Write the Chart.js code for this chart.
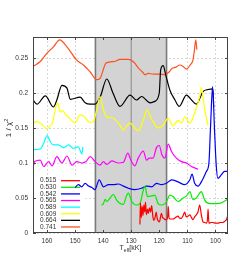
<!DOCTYPE html>
<html>
<head>
<meta charset="utf-8">
<script src="https://cdn.jsdelivr.net/npm/chart.js@4/dist/chart.umd.min.js"></script>
<style>
  html, body { margin: 0; padding: 0; background: #fff; }
  #c { display: block; }
</style>
</head>
<body>
<canvas id="c" width="241" height="271"></canvas>
<script>
/* =====================================================
   Data (Teff in kK, fit quality 1/chi^2)
===================================================== */
const labels = ['0.515', '0.530', '0.542', '0.565', '0.589', '0.609', '0.664', '0.741'];
const colors = ['#ff0000', '#00ee00', '#0000ff', '#ff00ff', '#00ffff', '#ffff00', '#000000', '#ff4f1f'];

const teff515 = [126.9,126.7,126.4,126.1,125.8,125.5,125.2,124.9,124.6,124.2,123.9,123.5,123.1,122.7,122.3,121.9,121.5,121.1,120.7,120.3,119.9,119.5,119.2,118.8,118.4,118.0,117.4,117.0,116.8,116.5,115.8,115.1,114.2,113.3,112.7,112.1,111.5,110.9,110.4,109.8,109.1,108.5,108.0,107.4,106.8,106.2,105.6,105.0,104.4,103.8,103.2,102.8,102.6,102.3,101.5,100.9,100.0,99.1,98.2,97.3,96.6,96.1,95.5];
const fit515 = [0.012,0.043,0.022,0.038,0.025,0.040,0.030,0.044,0.026,0.034,0.028,0.036,0.030,0.039,0.024,0.018,0.022,0.030,0.020,0.017,0.016,0.024,0.028,0.022,0.021,0.019,0.019,0.024,0.038,0.021,0.020,0.020,0.022,0.024,0.021,0.021,0.025,0.030,0.023,0.024,0.026,0.022,0.019,0.023,0.026,0.030,0.040,0.026,0.016,0.015,0.014,0.020,0.034,0.014,0.015,0.015,0.014,0.014,0.015,0.015,0.017,0.019,0.026];

const teff530 = [140.5,139.9,139.3,138.7,137.5,136.4,135.2,134.2,132.8,131.6,131.0,129.8,128.1,126.9,125.7,125.1,124.2,122.7,121.6,120.4,119.2,118.0,117.4,116.2,115.1,113.3,111.5,110.3,109.1,108.0,106.8,105.0,104.6,103.8,102.0,99.6,97.9,96.1,95.5];
const fit530 = [0.040,0.042,0.048,0.045,0.050,0.055,0.047,0.043,0.041,0.054,0.057,0.045,0.040,0.042,0.061,0.067,0.052,0.053,0.054,0.042,0.040,0.042,0.045,0.054,0.052,0.045,0.050,0.053,0.059,0.048,0.050,0.059,0.056,0.047,0.042,0.042,0.043,0.047,0.049];

const teff542 = [150.0,148.8,147.6,146.4,145.2,144.0,142.9,141.4,139.9,138.1,136.4,134.6,132.8,131.0,128.7,126.3,124.5,122.7,121.0,119.2,117.4,115.6,113.3,110.9,109.1,108.3,107.4,106.2,104.6,103.2,102.3,101.7,101.0,100.3,99.7,99.1,97.9,96.7,95.5];
const fit542 = [0.065,0.069,0.066,0.071,0.067,0.065,0.062,0.076,0.066,0.069,0.069,0.070,0.067,0.064,0.062,0.064,0.067,0.066,0.071,0.069,0.071,0.076,0.073,0.069,0.076,0.084,0.071,0.067,0.076,0.088,0.100,0.154,0.209,0.147,0.097,0.078,0.083,0.088,0.088];

const teff565 = [164.9,164.4,162.4,161.2,159.4,158.2,156.5,154.7,152.9,151.1,149.4,147.6,146.1,144.6,142.9,141.1,139.9,138.7,136.9,134.6,132.8,131.2,130.1,128.7,127.5,125.7,124.5,123.6,122.2,121.0,120.0,119.0,118.0,116.8,115.6,113.9,112.1,110.3,108.5,106.2];
const fit565 = [0.095,0.102,0.104,0.095,0.102,0.096,0.109,0.100,0.110,0.097,0.102,0.100,0.102,0.109,0.102,0.097,0.102,0.098,0.103,0.100,0.101,0.114,0.104,0.096,0.107,0.117,0.104,0.107,0.107,0.122,0.125,0.111,0.107,0.127,0.116,0.107,0.102,0.100,0.095,0.091];

const teff589 = [164.8,162.4,161.2,160.0,158.8,157.7,155.9,154.1,152.3,150.6,148.8,147.6,147.2];
const fit589 = [0.119,0.120,0.128,0.139,0.130,0.126,0.126,0.122,0.126,0.121,0.123,0.113,0.123];

const teff609 = [165.0,163.8,162.4,161.3,160.0,158.8,158.1,157.1,156.2,155.3,154.4,153.5,151.7,150.0,148.2,146.8,144.6,143.5,142.3,141.1,139.9,138.7,136.4,134.0,132.8,131.6,130.4,128.7,127.5,125.7,124.3,123.3,122.2,120.4,118.6,116.8,115.1,113.3,112.1,110.9,109.1,107.4,105.6,105.0,103.8,102.6];
const fit609 = [0.156,0.159,0.157,0.153,0.149,0.153,0.157,0.176,0.186,0.173,0.175,0.170,0.163,0.157,0.169,0.166,0.158,0.159,0.176,0.195,0.176,0.166,0.164,0.154,0.147,0.153,0.157,0.150,0.146,0.161,0.176,0.167,0.159,0.150,0.154,0.164,0.153,0.161,0.157,0.166,0.157,0.171,0.195,0.208,0.176,0.154];

const teff664 = [165.0,163.6,160.6,157.7,156.5,154.7,152.9,151.7,148.2,146.4,144.6,142.9,141.0,138.7,136.5,134.0,130.4,128.1,126.3,123.3,121.6,120.0,119.5,118.6,117.7,116.2,114.4,112.9,110.3,108.5,106.8,104.4,102.6,100.9,100.6];
const fit664 = [0.190,0.184,0.196,0.180,0.190,0.211,0.207,0.191,0.194,0.186,0.184,0.184,0.195,0.220,0.200,0.181,0.197,0.190,0.195,0.186,0.188,0.200,0.233,0.239,0.226,0.204,0.190,0.181,0.197,0.190,0.184,0.202,0.205,0.206,0.180];

const teff741 = [165.0,162.4,160.0,157.7,155.5,152.9,149.4,147.0,144.6,142.3,141.1,138.9,136.0,134.0,131.0,129.0,127.5,126.0,125.0,124.0,122.0,120.0,118.0,116.5,115.5,114.0,112.7,111.5,110.3,109.0,108.0,107.5,107.0,106.6];
const fit741 = [0.238,0.245,0.257,0.266,0.276,0.266,0.247,0.240,0.230,0.219,0.221,0.243,0.245,0.248,0.248,0.244,0.236,0.230,0.226,0.228,0.227,0.227,0.226,0.230,0.235,0.237,0.240,0.238,0.234,0.240,0.247,0.260,0.276,0.262];

const xTicks = [100, 110, 120, 130, 140, 150, 160];
const yTicks = [0, 0.05, 0.1, 0.15, 0.2, 0.25];
const bandFrom = 142.75, bandTo = 117.4, bandMid = 130;

const series = [
  [teff515, fit515], [teff530, fit530], [teff542, fit542], [teff565, fit565],
  [teff589, fit589], [teff609, fit609], [teff664, fit664], [teff741, fit741]
];

const FONT = '"Liberation Sans", Arial, sans-serif';

/* =====================================================
   Background band, legend, frame and axis titles
===================================================== */
const decor = {
  id: 'decor',
  beforeDatasetsDraw(chart) {
    const { ctx, chartArea: a, scales: { x } } = chart;
    const x1 = x.getPixelForValue(bandFrom), x2 = x.getPixelForValue(bandTo);
    ctx.save();
    ctx.fillStyle = '#d3d3d3';
    ctx.fillRect(x1, a.top, x2 - x1, a.bottom - a.top);
    ctx.strokeStyle = '#7a7a7a';
    ctx.lineWidth = 1.6;
    [x1, x2].forEach(px => {
      ctx.beginPath(); ctx.moveTo(px, a.top); ctx.lineTo(px, a.bottom); ctx.stroke();
    });
    const xm = x.getPixelForValue(bandMid);
    ctx.strokeStyle = '#888';
    ctx.lineWidth = 1;
    ctx.beginPath(); ctx.moveTo(xm, a.top); ctx.lineTo(xm, a.bottom); ctx.stroke();

    // key box
    ctx.fillStyle = '#fff';
    ctx.fillRect(a.left + 0.5, 175, 51, a.bottom - 175 - 0.5);
    ctx.font = '6.5px ' + FONT;
    ctx.textBaseline = 'middle';
    ctx.textAlign = 'left';
    chart.data.datasets.forEach((ds, i) => {
      const y = 180.7 + i * 6.61;
      ctx.fillStyle = '#333';
      ctx.fillText(ds.label, 40, y);
      ctx.strokeStyle = ds.borderColor;
      ctx.lineWidth = 1.3;
      ctx.beginPath(); ctx.moveTo(61, y); ctx.lineTo(80, y); ctx.stroke();
    });
    ctx.restore();
  },
  afterDraw(chart) {
    const { ctx, chartArea: a, scales: { x, y } } = chart;
    ctx.save();
    ctx.strokeStyle = '#444';
    ctx.lineWidth = 1;
    ctx.strokeRect(a.left + 0.5, a.top + 0.5, a.right - a.left - 1, a.bottom - a.top - 1);
    // inward ticks on all sides
    ctx.beginPath();
    xTicks.forEach(v => {
      const px = Math.round(x.getPixelForValue(v)) + 0.5;
      ctx.moveTo(px, a.bottom); ctx.lineTo(px, a.bottom - 3);
      ctx.moveTo(px, a.top); ctx.lineTo(px, a.top + 3);
    });
    yTicks.forEach(v => {
      const py = Math.round(y.getPixelForValue(v)) + 0.5;
      ctx.moveTo(a.left, py); ctx.lineTo(a.left + 3, py);
      ctx.moveTo(a.right, py); ctx.lineTo(a.right - 3, py);
    });
    ctx.stroke();

    // x title: T_eff[kK]
    ctx.fillStyle = '#333';
    ctx.textBaseline = 'alphabetic';
    ctx.textAlign = 'left';
    const big = '7px ' + FONT, small = '5px ' + FONT;
    ctx.font = big; const wT = ctx.measureText('T').width, wK = ctx.measureText('[kK]').width;
    ctx.font = small; const wE = ctx.measureText('eff').width;
    let tx = (a.left + a.right) / 2 - (wT + wE + wK) / 2;
    const ty = 250;
    ctx.font = big; ctx.fillText('T', tx, ty); tx += wT;
    ctx.font = small; ctx.fillText('eff', tx, ty + 1.5); tx += wE;
    ctx.font = big; ctx.fillText('[kK]', tx, ty);

    // y title: 1 / chi^2
    ctx.translate(11, 128);
    ctx.rotate(-Math.PI / 2);
    const yb = '8px ' + FONT, ys = '5.5px ' + FONT;
    ctx.font = yb; const w1 = ctx.measureText('1 / χ').width;
    ctx.font = ys; const w2 = ctx.measureText('2').width;
    let sx = -(w1 + w2) / 2;
    ctx.font = yb; ctx.fillText('1 / χ', sx, 0); sx += w1;
    ctx.font = ys; ctx.fillText('2', sx, -3.5);
    ctx.restore();
  }
};

/* =====================================================
   Chart
===================================================== */
new Chart(document.getElementById('c'), {
  type: 'line',
  data: {
    datasets: series.map(([tx, fy], i) => ({
      label: labels[i],
      data: tx.map((t, k) => ({ x: t, y: fy[k] })),
      borderColor: colors[i],
      borderWidth: 1.2,
      pointRadius: 0,
      fill: false,
      tension: 0.3,
      cubicInterpolationMode: 'monotone'
    }))
  },
  options: {
    responsive: false,
    animation: false,
    devicePixelRatio: 1,
    layout: { padding: { top: 37, right: 13, left: 0, bottom: 0 } },
    plugins: { legend: { display: false }, tooltip: { enabled: false } },
    scales: {
      x: {
        type: 'linear',
        reverse: true,
        min: 95.5,
        max: 165,
        afterBuildTicks: s => { s.ticks = xTicks.map(v => ({ value: v })); },
        afterFit: s => { s.height = 38; },
        grid: { color: '#cfcfcf', lineWidth: 0.8, drawTicks: false },
        border: { display: false, dash: [2, 2] },
        ticks: { padding: 4, maxRotation: 0, color: '#333', font: { size: 6.5, family: FONT } }
      },
      y: {
        min: 0,
        max: 0.28,
        afterBuildTicks: s => { s.ticks = yTicks.map(v => ({ value: v })); },
        afterFit: s => { s.width = 33; },
        grid: { color: '#cfcfcf', lineWidth: 0.8, drawTicks: false },
        border: { display: false, dash: [2, 2] },
        ticks: {
          padding: 5,
          color: '#333',
          font: { size: 6.5, family: FONT },
          callback: v => String(+v.toFixed(2))
        }
      }
    }
  },
  plugins: [decor]
});
</script>
</body>
</html>
